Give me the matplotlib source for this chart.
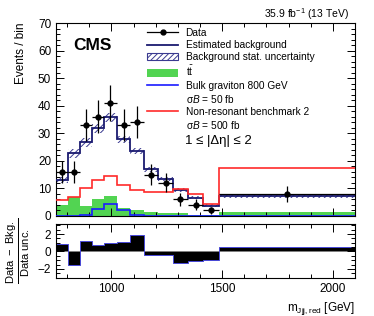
import numpy as np
import matplotlib
matplotlib.use("Agg")
import matplotlib.pyplot as plt
from matplotlib.lines import Line2D
from matplotlib.patches import Patch
from matplotlib.ticker import MultipleLocator

plt.rcParams['font.family'] = ['Liberation Sans', 'DejaVu Sans']
plt.rcParams['mathtext.fontset'] = 'custom'
plt.rcParams['mathtext.rm'] = 'Liberation Sans'
plt.rcParams['mathtext.it'] = 'Liberation Sans:italic'
plt.rcParams['mathtext.bf'] = 'Liberation Sans:bold'
plt.rcParams['hatch.linewidth'] = 0.7

# ---------------- DATA ----------------
edges = [750, 805, 858, 912, 967, 1025, 1085, 1147, 1212, 1278, 1346, 1414, 1485, 2100]
data = [16, 16, 33, 36, 41, 33, 34, 15, 12, 6, 4, 2, 8]
bkg = [13.0, 22.7, 26.7, 31.8, 35.8, 27.8, 23.5, 17.0, 13.5, 9.3, 6.6, 3.8, 7.3]
bkg_unc = [1.2, 1.5, 1.5, 1.6, 1.7, 1.3, 1.0, 0.9, 0.8, 0.7, 0.6, 0.5, 0.6]
ttbar = [4.0, 7.0, 3.6, 6.2, 7.2, 2.8, 2.2, 1.6, 1.2, 1.0, 0.5, 0.3, 1.5]
graviton = [0.05, 0.15, 0.5, 2.4, 4.2, 2.2, 0.4, 0.0, 0.0, 0.0, 0.0, 0.0, 0.0]
nonres = [5.8, 6.8, 10.0, 13.1, 14.6, 11.2, 9.6, 8.6, 8.6, 9.7, 7.9, 4.2, 17.3]
ratio = [0.89, -1.59, 1.23, 0.78, 0.97, 1.04, 1.92, -0.37, -0.37, -1.3, -1.13, -1.0, 0.47]

edges = np.array(edges, dtype=float)
centers = 0.5 * (edges[:-1] + edges[1:])
halfw = 0.5 * np.diff(edges)
bkg = np.array(bkg)
bkg_unc = np.array(bkg_unc)

navy = '#1a1a70'
hatch_col = '#3a3a90'

# ---------------- FIGURE ----------------
fig = plt.figure(figsize=(3.74, 3.16), dpi=100)
ax = fig.add_axes([56/374, 1-216/316, 299/374, 193/316])
ax2 = fig.add_axes([56/374, 1-278/316, 299/374, 54/316])

ax.stairs(ttbar, edges, fill=True, color='#52d452', lw=0, zorder=1)
ax.bar(edges[:-1], 2*bkg_unc, bottom=bkg-bkg_unc, width=np.diff(edges), align='edge',
       fill=False, hatch='//////', edgecolor=hatch_col, lw=0, zorder=2)
ax.stairs(bkg, edges, baseline=None, color=navy, lw=1.3, zorder=3)
ax.stairs(graviton, edges, baseline=None, color='#1a1aff', lw=1.2, zorder=3)
ax.stairs(nonres, edges, baseline=None, color='#ff2a2a', lw=1.2, zorder=3)
ax.errorbar(centers, data, xerr=halfw, yerr=np.sqrt(data), fmt='o', color='black',
            ms=3.5, elinewidth=0.9, capsize=0, zorder=4)

ax.set_xlim(750, 2100)
ax.set_ylim(0, 70)
ax.yaxis.set_major_locator(MultipleLocator(10))
ax.yaxis.set_minor_locator(MultipleLocator(2))
for a in (ax, ax2):
    a.xaxis.set_major_locator(MultipleLocator(500))
    a.xaxis.set_minor_locator(MultipleLocator(100))
    a.tick_params(which='both', direction='in', top=True, right=True, labelsize=8.5)
    a.tick_params(which='major', length=6, width=0.7)
    a.tick_params(which='minor', length=3, width=0.7)
    for s in a.spines.values():
        s.set_linewidth(0.8)
ax.tick_params(labelbottom=False)

ax.set_ylabel('Events / bin', fontsize=8.5, loc='top', labelpad=8)

# ratio panel
ax2.stairs(ratio, edges, fill=True, baseline=0, facecolor='black', edgecolor='#4848d8', lw=0.7)
ax2.set_xlim(750, 2100)
ax2.set_ylim(-3.05, 3.15)
ax2.yaxis.set_major_locator(MultipleLocator(2))
ax2.yaxis.set_minor_locator(MultipleLocator(0.5))
ax2.set_ylabel(r'$\frac{\mathrm{Data\ -\ Bkg.}}{\mathrm{Data\ unc.}}$', fontsize=11.5, labelpad=4)
ax2.set_xlabel(r'm$_{\mathrm{Jjj,red}}$ [GeV]', fontsize=8.5, loc='right')

# texts
fig.text(349/374, 1-14/316, r'35.9 fb$^{-1}$ (13 TeV)', ha='right', va='center', fontsize=7.5)
ax.text(73/374, 1-45/316, 'CMS', transform=fig.transFigure, ha='left', va='center',
        fontsize=12.5, fontweight='bold')
ax.text(185/374, 1-141/316, r'1 ≤ |Δη| ≤ 2', transform=fig.transFigure, ha='left',
        va='center', fontsize=9.5)

# legend
empty = Line2D([], [], linestyle='none')
handles = [
    Line2D([], [], color='black', marker='o', ms=3.5, lw=0.9),
    Line2D([], [], color=navy, lw=1.3),
    Patch(facecolor='white', edgecolor=hatch_col, hatch='//////', lw=0.8),
    Patch(facecolor='#52d452', lw=0),
    Line2D([], [], color='#1a1aff', lw=1.2),
    empty,
    Line2D([], [], color='#ff2a2a', lw=1.2),
    empty,
]
labels = ['Data', 'Estimated background', 'Background stat. uncertainty',
          r'$\mathrm{t\bar{t}}$', 'Bulk graviton 800 GeV', r'σ$B$ = 50 fb',
          'Non-resonant benchmark 2', r'σ$B$ = 500 fb']
fig.legend(handles, labels, loc='upper left', bbox_to_anchor=(147/374, 1-28/316),
           bbox_transform=fig.transFigure, frameon=False, fontsize=7.3, borderpad=0,
           borderaxespad=0, handlelength=3.1, handleheight=0.75, handletextpad=0.7,
           labelspacing=0.21)

fig.savefig('out.png', dpi=100)
